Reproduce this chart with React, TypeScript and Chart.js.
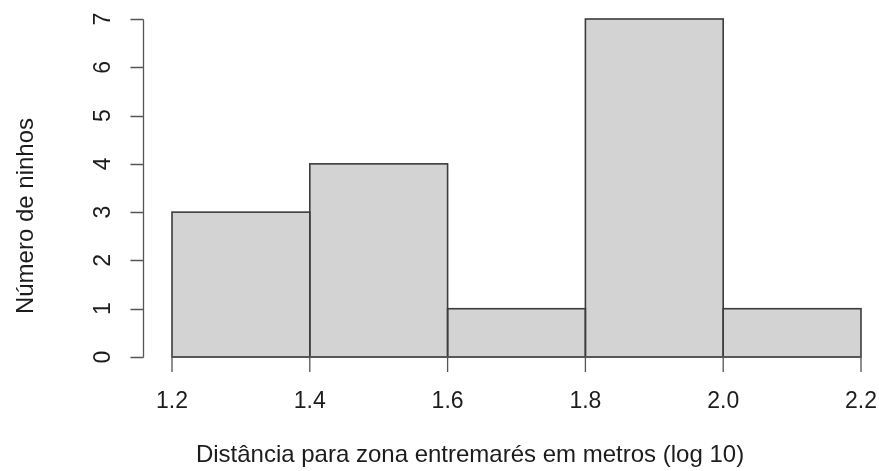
import React, { useEffect, useRef } from "react";
import { Chart, registerables } from "chart.js";

Chart.register(...registerables);

// Histogram: nest counts per distance class (log10 metres)
const binEdges = [1.2, 1.4, 1.6, 1.8, 2.0, 2.2];
const nestCounts = [3, 4, 1, 7, 1];
const xTickValues = [1.2, 1.4, 1.6, 1.8, 2.0, 2.2];
const xTickLabels = ["1.2", "1.4", "1.6", "1.8", "2.0", "2.2"];
const yTickValues = [0, 1, 2, 3, 4, 5, 6, 7];
const yTickLabels = ["0", "1", "2", "3", "4", "5", "6", "7"];
const xTitle = "Distância para zona entremarés em metros (log 10)";
const yTitle = "Número de ninhos";

const FONT = "'Liberation Sans', Arial, Helvetica, sans-serif";
const AXIS_COLOR = "#555555";
const TEXT_COLOR = "#1c1c1c";
const BAR_FILL = "#d3d3d3";
const BAR_EDGE = "#3c3c3c";

// Outlines centred on each bar's edges, so neighbouring bars share one line
const barOutlinePlugin = {
  id: "barOutline",
  afterDatasetsDraw(chart: any) {
    const { ctx } = chart;
    const meta = chart.getDatasetMeta(0);
    ctx.save();
    ctx.strokeStyle = BAR_EDGE;
    ctx.lineWidth = 1.6;
    for (const el of meta.data) {
      const { x, y, base, width } = el.getProps(["x", "y", "base", "width"], true);
      const left = x - width / 2;
      const top = Math.min(y, base);
      const h = Math.abs(base - y);
      ctx.strokeRect(left, top, width, h);
    }
    ctx.restore();
  },
};

// Base-graphics style axes: detached y axis, axis lines spanning only the tick range
const baseAxesPlugin = {
  id: "baseAxes",
  afterDraw(chart: any) {
    const { ctx, chartArea } = chart;
    const xs = chart.scales.x;
    const ys = chart.scales.y;
    ctx.save();
    ctx.strokeStyle = AXIS_COLOR;
    ctx.lineWidth = 1.3;

    // y axis
    const yAxisX = Math.round(chartArea.left - 29) + 0.5;
    const yBottom = ys.getPixelForValue(yTickValues[0]);
    const yTop = ys.getPixelForValue(yTickValues[yTickValues.length - 1]);
    ctx.beginPath();
    ctx.moveTo(yAxisX, Math.round(yBottom) + 0.5);
    ctx.lineTo(yAxisX, Math.round(yTop) + 0.5);
    for (const v of yTickValues) {
      const py = Math.round(ys.getPixelForValue(v)) + 0.5;
      ctx.moveTo(yAxisX, py);
      ctx.lineTo(yAxisX - 13, py);
    }
    ctx.stroke();

    // x axis
    const xAxisY = ys.getPixelForValue(0);
    ctx.beginPath();
    ctx.moveTo(xs.getPixelForValue(xTickValues[0]), xAxisY);
    ctx.lineTo(xs.getPixelForValue(xTickValues[xTickValues.length - 1]), xAxisY);
    for (const v of xTickValues) {
      const px = xs.getPixelForValue(v);
      ctx.moveTo(px, xAxisY);
      ctx.lineTo(px, xAxisY + 15);
    }
    ctx.stroke();

    // axis titles
    ctx.fillStyle = TEXT_COLOR;
    ctx.font = `24px ${FONT}`;
    ctx.textAlign = "center";
    ctx.textBaseline = "alphabetic";
    ctx.fillText(xTitle, 470, 462);
    ctx.translate(33, 216);
    ctx.rotate(-Math.PI / 2);
    ctx.fillText(yTitle, 0, 0);
    ctx.restore();
  },
};

export default function App() {
  const canvasRef = useRef<HTMLCanvasElement | null>(null);

  useEffect(() => {
    const canvas = canvasRef.current;
    if (!canvas) return;

    const points = nestCounts.map((c, i) => ({
      x: (binEdges[i] + binEdges[i + 1]) / 2,
      y: c,
    }));

    const chart = new Chart(canvas, {
      type: "bar",
      data: {
        datasets: [
          {
            data: points as any,
            backgroundColor: BAR_FILL,
            borderWidth: 0,
            borderSkipped: false,
            barPercentage: 1,
            categoryPercentage: 1,
            inflateAmount: 0,
          } as any,
        ],
      },
      options: {
        responsive: false,
        animation: false,
        layout: { padding: { top: 19, right: 18, left: 0, bottom: 0 } },
        plugins: {
          legend: { display: false },
          tooltip: { enabled: false },
        },
        scales: {
          x: {
            type: "linear",
            min: binEdges[0],
            max: binEdges[binEdges.length - 1],
            offset: false,
            grid: { display: false, drawTicks: false },
            border: { display: false },
            afterBuildTicks: (s: any) => {
              s.ticks = xTickValues.map((v) => ({ value: v }));
            },
            afterFit: (s: any) => {
              s.height = 114;
              s.paddingLeft = 0;
              s.paddingRight = 0;
            },
            ticks: {
              autoSkip: false,
              maxRotation: 0,
              padding: 31,
              color: TEXT_COLOR,
              font: { family: FONT, size: 23 },
              callback: (_v: any, i: number) => xTickLabels[i],
            },
          },
          y: {
            type: "linear",
            min: yTickValues[0],
            max: yTickValues[yTickValues.length - 1],
            grid: { display: false, drawTicks: false },
            border: { display: false },
            afterBuildTicks: (s: any) => {
              s.ticks = yTickValues.map((v) => ({ value: v }));
            },
            afterFit: (s: any) => {
              s.width = 172;
              s.paddingTop = 0;
              s.paddingBottom = 0;
            },
            ticks: {
              autoSkip: false,
              minRotation: 90,
              maxRotation: 90,
              crossAlign: "center",
              padding: 62,
              color: TEXT_COLOR,
              font: { family: FONT, size: 23 },
              callback: (_v: any, i: number) => yTickLabels[i],
            },
          },
        },
      },
      plugins: [barOutlinePlugin, baseAxesPlugin],
    });

    return () => chart.destroy();
  }, []);

  return (
    <div
      style={{
        position: "fixed",
        left: 0,
        top: 0,
        width: 879,
        height: 471,
        background: "#ffffff",
      }}
    >
      <canvas
        ref={canvasRef}
        width={879}
        height={471}
        style={{ display: "block", width: 879, height: 471 }}
      />
    </div>
  );
}
